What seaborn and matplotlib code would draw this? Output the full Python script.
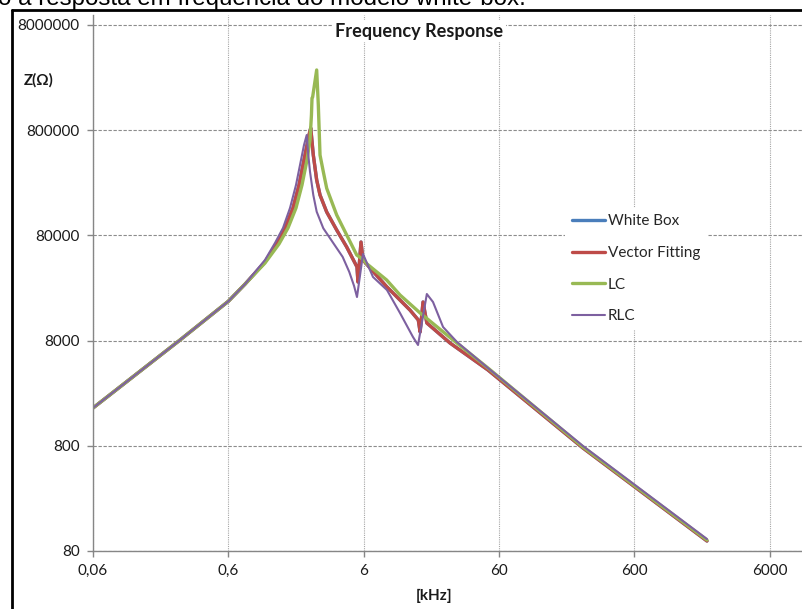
import numpy as np
import pandas as pd
import matplotlib
matplotlib.use("Agg")
import matplotlib.pyplot as plt
from matplotlib.ticker import FixedLocator, FixedFormatter, NullLocator
from matplotlib.lines import Line2D
import seaborn as sns

# ---------------- data ----------------
freq_vf = [0.06, 0.264, 0.6, 0.797, 1.12, 1.375, 1.575, 1.805, 1.999, 2.176, 2.290, 2.369, 2.44,
           2.549, 2.70, 2.858, 3.202, 3.796, 4.501, 5.362, 5.45, 5.74, 5.94, 7.075, 8.89, 13.2,
           15.22, 15.7, 16.5, 17.6, 26.1, 49.8, 251, 2070]
z_vf = [1830, 8110, 18900, 27500, 44700, 67750, 94100, 145800, 241100, 416700, 578600, 720000, 840000,
        464600, 269000, 193700, 133500, 90000, 62000, 40100, 28850, 69200, 46700, 36150, 26030, 15630,
        12560, 9660, 18620, 11760, 7590, 4205, 762, 99.6]

freq_wb = [0.06, 0.264, 0.6, 0.797, 1.12, 1.375, 1.575, 1.805, 1.999, 2.176, 2.290, 2.369, 2.44,
           2.549, 2.70, 2.858, 3.202, 3.796, 4.501, 5.362, 5.45, 5.74, 5.94, 7.075, 8.89, 13.2,
           15.22, 15.7, 16.5, 17.6, 26.1, 49.8, 251, 2070]
z_wb = [1830, 8110, 18900, 27500, 44700, 67750, 94100, 145800, 241100, 416700, 578600, 720000, 840000,
        464600, 269000, 193700, 133500, 90000, 62000, 40100, 28850, 69200, 46700, 36150, 26030, 15630,
        12560, 9660, 18620, 11760, 7590, 4205, 762, 99.6]

freq_lc = [0.06, 0.264, 0.6, 0.797, 1.12, 1.422, 1.657, 1.899, 2.103, 2.290, 2.410, 2.47, 2.494, 2.52,
           2.70, 2.776, 2.858, 3.022, 3.202, 3.487, 3.796, 4.501, 5.335, 6.0, 6.36, 8.89, 11.15, 15.7,
           27.5, 49.8, 251, 2070]
z_lc = [1830, 8110, 18900, 27500, 43700, 66300, 94100, 145800, 241100, 416700, 645500, 1116000, 1619000,
        1650000, 2990000, 1389000, 464600, 322700, 224300, 167300, 125000, 80700, 52100, 46700, 42800,
        30100, 21700, 14640, 8110, 4390, 779, 101.7]

freq_rlc = [0.06, 0.264, 0.6, 0.797, 1.12, 1.328, 1.522, 1.715, 1.899, 2.068, 2.176, 2.279, 2.341, 2.41,
            2.549, 2.70, 3.022, 3.6, 4.2, 4.7, 5.1, 5.362, 5.94, 7.04, 8.93, 11.15, 13.9, 15.15,
            17.6, 19.55, 23.2, 29.4, 49.8, 251, 2070]
z_rlc = [1830, 8110, 18900, 27500, 46700, 67750, 94100, 145800, 241100, 416700, 578600, 720000, 464600,
         322700, 193700, 134400, 93500, 67000, 50000, 36000, 26500, 20760, 53250, 32200, 24200, 14630,
         8660, 7265, 22180, 18620, 10770, 7760, 4390, 797, 104]

series_names = ["White Box", "Vector Fitting", "LC", "RLC"]
series_colors = ["#4A7EBB", "#BE4B48", "#98B954", "#7D60A0"]
series_widths = [2.4, 2.4, 2.4, 1.5]

x_ticks = [0.06, 0.6, 6, 60, 600, 6000]
x_tick_labels = ["0,06", "0,6", "6", "60", "600", "6000"]
y_ticks = [80, 800, 8000, 80000, 800000, 8000000]
y_tick_labels = ["80", "800", "8000", "80000", "800000", "8000000"]

title_text = "Frequency Response"
y_label = "Z(Ω)"
x_label = "[kHz]"
caption = "o a resposta em frequência do modelo white-box."

# ---------------- figure ----------------
sns.set_theme(style="white")
plt.rcParams["font.family"] = ["Lato", "DejaVu Sans"]

W, H = 802, 609
fig = plt.figure(figsize=(W / 100, H / 100), dpi=100)

left_px, right_px, top_px, bottom_px = 93, 802, 15, 551
ax = fig.add_axes([left_px / W, 1 - bottom_px / H, (right_px - left_px) / W, (bottom_px - top_px) / H])
ax.set_xscale("log")
ax.set_yscale("log")

xs = [freq_wb, freq_vf, freq_lc, freq_rlc]
ys = [z_wb, z_vf, z_lc, z_rlc]
for name, fx, zy, col, lw in zip(series_names, xs, ys, series_colors, series_widths):
    sns.lineplot(x=np.array(fx), y=np.array(zy), ax=ax, color=col, linewidth=lw,
                 sort=False, estimator=None, label=name, solid_joinstyle="round")

px_per_dec_x = 135.3
px_per_dec_y = 105.2
ax.set_xlim(0.06, 0.06 * 10 ** ((right_px - left_px) / px_per_dec_x))
ax.set_ylim(80, 80 * 10 ** ((bottom_px - top_px) / px_per_dec_y))

ax.xaxis.set_major_locator(FixedLocator(x_ticks))
ax.xaxis.set_major_formatter(FixedFormatter(x_tick_labels))
ax.xaxis.set_minor_locator(NullLocator())
ax.yaxis.set_major_locator(FixedLocator(y_ticks))
ax.yaxis.set_major_formatter(FixedFormatter(y_tick_labels))
ax.yaxis.set_minor_locator(NullLocator())

axis_gray = "#868686"
for s in ["top", "right"]:
    ax.spines[s].set_visible(False)
for s in ["left", "bottom"]:
    ax.spines[s].set_color(axis_gray)
    ax.spines[s].set_linewidth(1.0)
ax.tick_params(axis="both", which="major", direction="out", length=4, width=1.0,
               color=axis_gray, labelsize=11, labelcolor="#1a1a1a", pad=5.5)
ax.tick_params(axis="y", left=True)
ax.tick_params(axis="x", bottom=True)

ax.set_axisbelow(True)
ax.yaxis.grid(True, color="#8c8c8c", linewidth=0.8, linestyle=(0, (3, 1.5)))
ax.xaxis.grid(True, color="#a6a6a6", linewidth=0.8, linestyle=(0, (1, 1)))

# legend
leg = ax.legend(loc="upper left", bbox_to_anchor=(565 / W, 1 - 207.5 / H),
                bbox_transform=fig.transFigure, frameon=True, fontsize=11,
                handlelength=2.15, handletextpad=0.2, labelspacing=1.15,
                borderpad=0.45, borderaxespad=0)
leg.get_frame().set_facecolor("white")
leg.get_frame().set_edgecolor("none")
leg.get_frame().set_alpha(1)
leg.get_frame().set_boxstyle("square", pad=0)

# title with white box
fig.text(419.5 / W, 1 - 31 / H, title_text, ha="center", va="center", fontsize=13.1,
         fontweight="bold", color="#1a1a1a",
         bbox=dict(facecolor="white", edgecolor="none", pad=2))
fig.text(38.5 / W, 1 - 80 / H, y_label, ha="center", va="center", fontsize=11,
         fontweight="bold", color="#1a1a1a")
fig.text(434 / W, 1 - 596 / H, x_label, ha="center", va="center", fontsize=11,
         fontweight="bold", color="#1a1a1a")

# caption partly cut at the top
fig.text(-2 / W, 1 - 5 / H, caption, ha="left", va="baseline", fontsize=17.4,
         family=["Liberation Sans", "DejaVu Sans"], color="black")

# frame lines
fig.add_artist(Line2D([12 / W, 12 / W], [0, 1 - 10 / H], transform=fig.transFigure,
                      color="black", linewidth=2))
fig.add_artist(Line2D([12 / W, 1], [1 - 10 / H, 1 - 10 / H], transform=fig.transFigure,
                      color="black", linewidth=2))

fig.savefig("out.png", dpi=100)
